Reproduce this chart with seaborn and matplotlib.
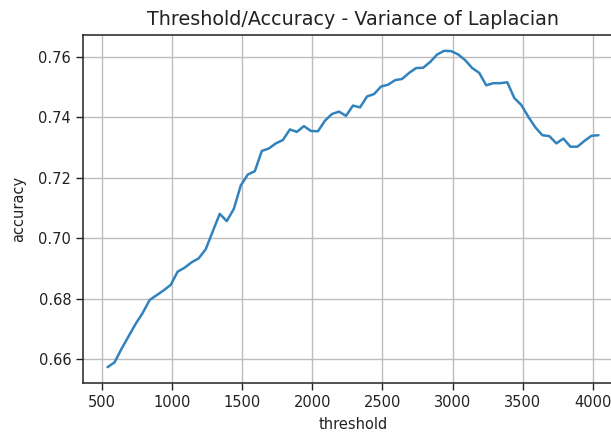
import matplotlib
matplotlib.use("Agg")
import matplotlib.pyplot as plt
import seaborn as sns
import pandas as pd

thresholds = [540, 590, 640, 690, 740, 790, 840, 890, 940, 990,
              1040, 1090, 1140, 1190, 1240, 1290, 1340, 1390, 1440, 1490,
              1540, 1590, 1640, 1690, 1740, 1790, 1840, 1890, 1940, 1990,
              2040, 2090, 2140, 2190, 2240, 2290, 2340, 2390, 2440, 2490,
              2540, 2590, 2640, 2690, 2740, 2790, 2840, 2890, 2940, 2990,
              3040, 3090, 3140, 3190, 3240, 3290, 3340, 3390, 3440, 3490,
              3540, 3590, 3640, 3690, 3740, 3790, 3840, 3890, 3940, 3990,
              4040]
accuracy = [0.6574, 0.6590, 0.6635, 0.6676, 0.6717, 0.6753, 0.6796, 0.6812, 0.6828, 0.6846,
            0.6890, 0.6903, 0.6921, 0.6934, 0.6964, 0.7023, 0.7081, 0.7057, 0.7097, 0.7175,
            0.7211, 0.7222, 0.7289, 0.7297, 0.7314, 0.7325, 0.7360, 0.7352, 0.7371, 0.7355,
            0.7354, 0.7389, 0.7411, 0.7419, 0.7405, 0.7439, 0.7433, 0.7469, 0.7477, 0.7502,
            0.7508, 0.7523, 0.7527, 0.7547, 0.7563, 0.7564, 0.7583, 0.7608, 0.7620, 0.7619,
            0.7608, 0.7589, 0.7563, 0.7547, 0.7506, 0.7513, 0.7513, 0.7516, 0.7464, 0.7441,
            0.7402, 0.7367, 0.7341, 0.7338, 0.7314, 0.7330, 0.7303, 0.7303, 0.7322, 0.7339,
            0.7341]
x_ticks = [500, 1000, 1500, 2000, 2500, 3000, 3500, 4000]
y_ticks = [0.66, 0.68, 0.70, 0.72, 0.74, 0.76]

title = "Threshold/Accuracy - Variance of Laplacian"

sns.set_style("ticks")
plt.rcParams['font.family'] = ['DejaVu Sans']

df = pd.DataFrame({"threshold": thresholds, "accuracy": accuracy})

fig = plt.figure(figsize=(6.11, 4.34), dpi=100)
ax = fig.add_axes([83 / 611, 51 / 434, 540 / 611, 348 / 434])
sns.lineplot(data=df, x="threshold", y="accuracy", ax=ax, color="#3282bd", linewidth=1.8)
ax.set_xticks(x_ticks)
ax.set_yticks(y_ticks)
ax.set_yticklabels([f"{v:.2f}" for v in y_ticks])
ax.grid(True, color="#bdbdbd", linewidth=1.0)
ax.set_axisbelow(True)
ax.tick_params(labelsize=10.5, length=5, width=1.0, colors="#222222")
for s in ax.spines.values():
    s.set_color("#222222")
    s.set_linewidth(1.1)
ax.set_xlabel("threshold", fontsize=10.5, color="#222222", labelpad=5)
ax.set_ylabel("accuracy", fontsize=10.5, color="#222222", labelpad=9)
ax.set_title(title, fontsize=13.8, color="#222222", pad=7)

fig.savefig("out.png", dpi=100)
